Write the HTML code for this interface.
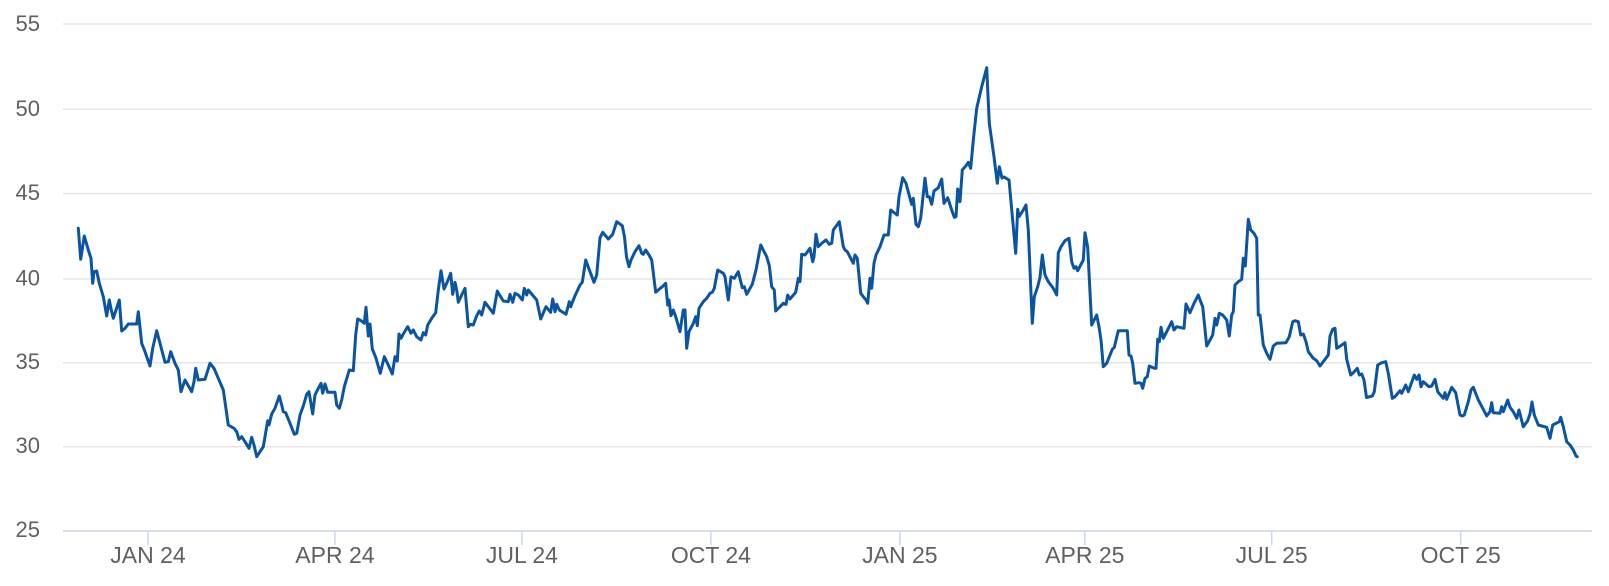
<!DOCTYPE html>
<html>
<head>
<meta charset="utf-8">
<style>
  html, body { margin:0; padding:0; background:#ffffff; }
  svg { display:block; }
  text { font-family: "Liberation Sans", Arial, sans-serif; fill:#606060; }
</style>
</head>
<body>
<svg width="1609" height="586" viewBox="0 0 1609 586" xmlns="http://www.w3.org/2000/svg">
  <rect x="0" y="0" width="1609" height="586" fill="#ffffff"/>
  <!-- grid lines -->
  <g stroke="#e6e6e6" stroke-width="1.5">
    <line x1="63" y1="24" x2="1592" y2="24"/>
    <line x1="63" y1="109.3" x2="1592" y2="109.3"/>
    <line x1="63" y1="193.5" x2="1592" y2="193.5"/>
    <line x1="63" y1="279" x2="1592" y2="279"/>
    <line x1="63" y1="362.7" x2="1592" y2="362.7"/>
    <line x1="63" y1="446.8" x2="1592" y2="446.8"/>
  </g>
  <!-- x axis -->
  <line x1="63" y1="531" x2="1592" y2="531" stroke="#ccd6eb" stroke-width="1.5"/>
  <g stroke="#ccd6eb" stroke-width="1.5">
    <line x1="148" y1="531" x2="148" y2="545"/>
    <line x1="334.9" y1="531" x2="334.9" y2="545"/>
    <line x1="521.9" y1="531" x2="521.9" y2="545"/>
    <line x1="710.9" y1="531" x2="710.9" y2="545"/>
    <line x1="899.9" y1="531" x2="899.9" y2="545"/>
    <line x1="1084.8" y1="531" x2="1084.8" y2="545"/>
    <line x1="1271.7" y1="531" x2="1271.7" y2="545"/>
    <line x1="1460.7" y1="531" x2="1460.7" y2="545"/>
  </g>
  <!-- y labels -->
  <g font-size="22" text-anchor="end">
    <text x="40" y="31">55</text>
    <text x="40" y="116">50</text>
    <text x="40" y="200">45</text>
    <text x="40" y="285.5">40</text>
    <text x="40" y="369">35</text>
    <text x="40" y="453">30</text>
    <text x="40" y="537">25</text>
  </g>
  <!-- x labels -->
  <g font-size="23" text-anchor="middle">
    <text x="148" y="563">JAN 24</text>
    <text x="334.9" y="563">APR 24</text>
    <text x="521.9" y="563">JUL 24</text>
    <text x="710.9" y="563">OCT 24</text>
    <text x="899.9" y="563">JAN 25</text>
    <text x="1084.8" y="563">APR 25</text>
    <text x="1271.7" y="563">JUL 25</text>
    <text x="1460.7" y="563">OCT 25</text>
  </g>
  <!-- series -->
  <polyline fill="none" stroke="#0a55a3" stroke-width="3" stroke-linejoin="round" stroke-linecap="round" points="
78.3,228.3 80.7,259.3 84.3,236 88.3,250 91,258.3 92.7,283.3 94,271.7 96.7,271 99.3,283.3 103.3,296.7 106.7,316 109.3,300 111.3,310 113.3,318.3 116,310 119.3,300 121.7,331 125,328.3 128.3,324 136.7,324 138.3,311.7 141.7,343.3 145,351.7 150,366 152.7,348.3 156.7,330.7 160,343.3 165,362.3 168.3,361.7 170.7,351.7 175,363.3 178.3,370 181,391.7 185,380 191.7,391.7 194,381.7 195.7,368.3 198.3,380 205,379.3 210,363.3 214,368.3 218.3,378.3 223.3,390 228.3,425 234,428.3 236.7,431.7 239,439.3 241.7,436.7 245,441.7 249,448.3 251.7,437.3 254,445 256.7,456.7
260,451.7 263.3,446.7 267.7,420.7 269,425 271.7,414 275,408.3 279.3,396 281.7,405 283.3,411.7 285.7,412.7 290,423.3 294.3,434.3 296.7,433.3 300,415 303.3,406 306.7,394.3 309,391.7 312.7,414 315,395 318.3,388.3 321,383.3 322.7,393.3 325,384 327.7,392.3 335,392.3 336.7,405 339.3,408.3 341.7,400 344.3,386.7 349.3,370 353.3,370.7 355.7,335 357.7,319 361,320.7 364.3,323.3 366,307.3 368.3,336 370,324 372.3,349 375.7,357.3 380.3,373.3 384.3,356.7 388.3,365 392.3,374 395,356.7 397.3,361 399,334 401,338.3 403.3,334 407.7,326.7 411,333.3 413.3,330 416.7,336.7 421,340 423.3,332.7 425.7,335 427.7,325 431.7,318.3 435.7,312.7 438.3,290 441,270.7
444,289 446.7,283.3 450.7,273.3 452.7,294.3 455,282.3 456.7,290 458.3,302.3 461.7,295 465,288.3 468.3,326.7 470.7,324.3 473.3,325 476.7,315.7 479.3,311 481.7,315 485,302.3 493.3,313.3 497.3,291 500,295.7 503.3,301 508.3,301.7 510,294.3 512.7,302.3 515,293.3 518.3,295 522.3,300 524.3,288.3 526.7,295 528.3,290 536.7,300 540.7,319 546,306.7 550.7,312.3 552.7,299 555,311.7 556.7,304.3 559.3,310 566,314.3 569.3,301.7 570.7,306.7 575,295.7 580,285 582.3,282.3 585.7,260 590,271.7 594,282.3 596.7,275 600,237.7 602.7,232.3 608.3,239 612.7,234.3 616.7,221.7 622.3,225.7 624.5,237 626.5,256.7 629,266.7
631,260 635,251.7 639,245.7 641.7,253.3 643.3,254.3 645.7,250 649,255 651.7,260 655.7,292.3 658.3,290 662.3,286.7 665.7,283.3 667.7,305 669,300 671,315.7 673.3,310 675.7,316.7 680,331.7 683.3,310 685,310 686.7,348.3 689,331.7 693.3,323.3 695.7,316.7 697.3,325.7 699,308.3 703.3,301.7 706.7,298.3 710,293.3 712.3,292.3 714.3,288.3 717.7,270 723.3,273.3 725,276.7 728.3,300 731,276.7 734.3,278.3 738.3,271.7 742.3,287.7 744.3,286.7 746.7,294.3 752.3,284.3 756,270 760.7,245 766.7,256.7 769.3,265.7 771.7,286.7 774.3,290 775.7,311 780,306.7 783.3,303.3 786,304.3 787.7,295 790,299 795.7,292.3 798.3,278.3 800,281.7 801.7,254.3 805,255 810,248.3
812.7,261.7 814,256.7 816,234.3 818.3,246.7 821.7,243.3 826,240 829.3,244.3 831.7,243.3 833.3,230 839.3,221.7 843.3,246.7 845,250 847.3,251.7 850.7,258.3 853.3,263.3 855,255 857.3,258.3 860.7,293.3 863.3,296.7 866,300 867.7,303.3 870,278.3 871.7,288.3 874,263.3 876,255 880,246.7 884,235 888.3,235 890.7,210 895,213.3 897.3,215 899,196.7 902.7,177.7 906,183.3 910,198.3 911.7,204.3 913.3,198.3 916,224.3 918.3,226.7 920.7,218.3 925,178.3 927.3,196.7 929.3,196.7 931.7,204.3 934,191 938.3,187.7 941.7,179 944,203.3 947.7,197.7 951.7,210 954.3,217.3 956,216.7 957.7,189 960,201.7 962.3,170 966,165.7 968.3,162.3 970.7,168.3 973.3,140 976.7,108.3 981.7,86.7 986.7,67.7 989.3,123.3 994,156.7 997.3,183.3 999.3,166.7 1002,178 1004,177 1009,180
1015.7,253.3 1017.7,209.3 1019,216.7 1023.3,210 1026,205 1028.3,230 1032.3,323.3 1034.3,296.7 1037.7,286.7 1040,277.3 1042.3,255 1045,275 1048.3,281.7 1053.3,288.3 1056.7,295 1058.3,252.7 1061,246.7 1065,240.7 1069,238.3 1071.7,261.7 1074,268.3 1076,266.7 1077.7,270.7 1083.3,260 1085,232.7 1087.7,247.3 1091.7,325 1096.7,315 1099,326.7 1101,340 1103.3,366.7 1106.7,363.3 1112.3,349.3 1114.3,347.3 1118.3,330.7 1127.3,330.7 1129,355 1131,356 1132.7,363.3 1135,383.3 1139,382.7 1141,383.3 1142.7,388.3 1145,378.3 1147.3,376.7 1149.3,366 1154.3,368.3 1156,368.3 1157.7,339.3 1159.3,341.7 1161,327.3 1163.3,338.3 1166.7,331.7 1171.7,321.7 1174,330 1176.7,326.7 1184,328.3
1186,304 1190,312.7 1194,303.3 1198.3,295 1200.7,301.7 1202.7,306.7 1206.7,346 1210,340 1212.7,335 1215,318.3 1216.7,325 1219.3,313.3 1222.7,315 1226.7,320 1229.3,336 1231.7,315 1233.3,311.7 1235,285 1238.3,281.7 1241.7,279.3 1243.3,258.3 1245.3,266 1248.3,219.3 1250.7,230 1254,233.3 1256.7,238.3 1258.3,315 1260,315 1263.3,345 1266.7,353.3 1270,359.3 1273.3,346 1276.7,343.3 1286,342.7 1289.3,336.7 1292.7,321.7 1295,320.7 1298.3,321.7 1300.7,335 1303.3,334 1306,341.7 1308.3,351.7 1313.3,358.3 1316.7,360.7 1320,366 1323.3,361.7 1328.3,355 1330,336 1332.7,329.3 1335,328.3 1336.7,348.3 1339.3,346.7 1345,342.7 1346.7,359.3 1350.7,375 1353.3,372.7 1357.3,368.3 1359.3,375 1361.7,374 1364,380 1366.5,397.5
1372.3,396 1374.3,391.7 1377.7,365 1381.7,362.7 1385.7,361.7 1388.3,373.3 1392.3,398.3 1395,396.7 1400,390.7 1401.7,393.3 1405.7,385 1408.3,391.7 1414.3,375 1416.7,379.3 1419,375 1421,386.7 1423.3,381.7 1429,386.7 1431.7,386 1435,379.3 1437.7,391.7 1443.3,398.3 1445,392.7 1446.7,399.3 1451.7,387.3 1455.7,392.7 1460,415 1462.3,416 1464.3,415 1468.3,401.7 1471,390 1473.3,387.3 1478.3,400 1483.3,409.3 1486.7,416 1490,411.7 1491.7,402.7 1493.3,412.7 1500,413.3 1501.7,406.7 1503.3,411.7 1507.7,400 1510,407.3 1513.3,411.7 1516.7,418.3 1519,410 1523.3,426.7 1527.7,420.7 1530,414 1532,402 1534.3,415 1538.3,425 1546.7,427.3 1550,438.3 1552.7,425 1559.3,421.7 1560.7,417.3 1563.3,426.7 1566.7,441.7 1570,445 1573.3,450 1576,456 1577.3,456.7"/>
</svg>
</body>
</html>
